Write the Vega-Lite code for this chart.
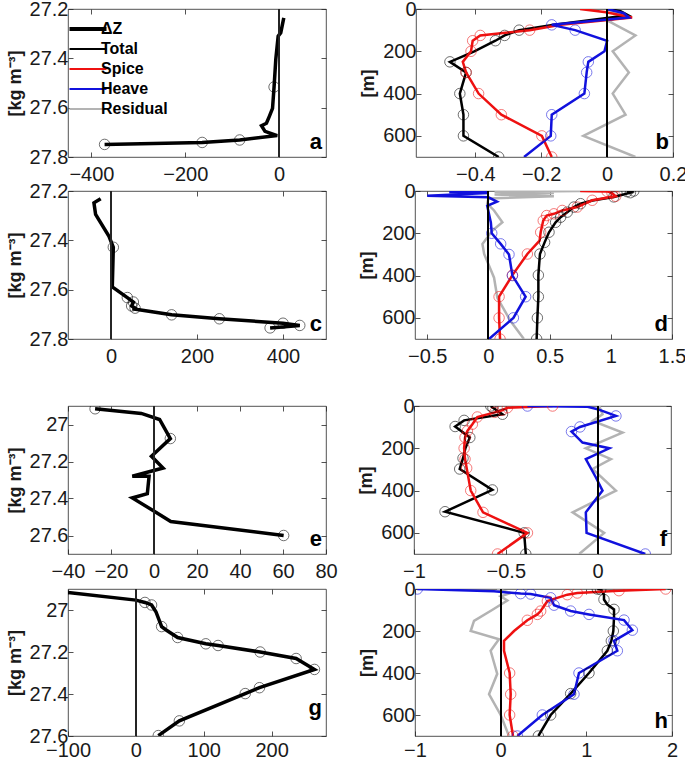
{
  "$schema": "https://vega.github.io/schema/vega-lite/v6.json",
  "padding": {"left": 5, "top": -2, "right": 5, "bottom": 0},
  "config": {
    "font": "Liberation Sans",
    "view": {"stroke": "#262626", "strokeWidth": 0.8},
    "axis": {"grid": false, "domain": false, "labelFontSize": 20, "labelColor": "#1a1a1a", "labelFont": "Liberation Sans", "tickColor": "#262626", "tickSize": -5, "tickWidth": 0.8, "titleFontSize": 18, "titleFontWeight": "bold", "titleColor": "#1a1a1a", "titleFont": "Liberation Sans", "labelFlush": false},
    "axisX": {"labelPadding": 12, "labelFlush": false},
    "axisY": {"labelPadding": 5, "titlePadding": 5},
    "point": {"filled": false}
  },
  "datasets": {
    "a": [
      {"s": "ΔZ", "z": 10, "r": 27.236, "m": 0},
      {"s": "ΔZ", "z": 3.6, "r": 27.296, "m": 0},
      {"s": "ΔZ", "z": -2, "r": 27.31, "m": 0},
      {"s": "ΔZ", "z": -7, "r": 27.403, "m": 0},
      {"s": "ΔZ", "z": -10.7, "r": 27.516, "m": 1},
      {"s": "ΔZ", "z": -14, "r": 27.603, "m": 0},
      {"s": "ΔZ", "z": -21, "r": 27.636, "m": 0},
      {"s": "ΔZ", "z": -27, "r": 27.663, "m": 0},
      {"s": "ΔZ", "z": -37.5, "r": 27.673, "m": 0},
      {"s": "ΔZ", "z": -30, "r": 27.696, "m": 0},
      {"s": "ΔZ", "z": -4, "r": 27.713, "m": 0},
      {"s": "ΔZ", "z": -84, "r": 27.731, "m": 1},
      {"s": "ΔZ", "z": -164, "r": 27.741, "m": 1},
      {"s": "ΔZ", "z": -372, "r": 27.749, "m": 1}
    ],
    "c": [
      {"z": -24, "r": 27.231, "m": 0},
      {"z": -39.7, "r": 27.248, "m": 0},
      {"z": -35.8, "r": 27.295, "m": 0},
      {"z": -4.7, "r": 27.384, "m": 0},
      {"z": 5.4, "r": 27.428, "m": 1},
      {"z": 3, "r": 27.589, "m": 0},
      {"z": 38, "r": 27.632, "m": 1},
      {"z": 52, "r": 27.65, "m": 1},
      {"z": 48, "r": 27.666, "m": 1},
      {"z": 56, "r": 27.675, "m": 1},
      {"z": 50, "r": 27.677, "m": 0},
      {"z": 141, "r": 27.702, "m": 1},
      {"z": 252, "r": 27.718, "m": 1},
      {"z": 400, "r": 27.736, "m": 1},
      {"z": 439, "r": 27.745, "m": 1},
      {"z": 370, "r": 27.755, "m": 1}
    ],
    "e": [
      {"z": -27.4, "r": 26.915, "m": 1},
      {"z": -5.9, "r": 26.94, "m": 0},
      {"z": 2.6, "r": 26.973, "m": 0},
      {"z": 7.6, "r": 27.076, "m": 1},
      {"z": -1.2, "r": 27.172, "m": 0},
      {"z": 4.2, "r": 27.235, "m": 0},
      {"z": -10.1, "r": 27.28, "m": 0},
      {"z": -2.3, "r": 27.28, "m": 0},
      {"z": -3.1, "r": 27.374, "m": 0},
      {"z": -10.1, "r": 27.397, "m": 0},
      {"z": 0.3, "r": 27.47, "m": 0},
      {"z": 7.8, "r": 27.524, "m": 0},
      {"z": 60.3, "r": 27.6, "m": 1}
    ],
    "g": [
      {"z": -100, "r": 26.917, "m": 0},
      {"z": 0, "r": 26.953, "m": 0},
      {"z": 13.3, "r": 26.964, "m": 1},
      {"z": 23.1, "r": 26.976, "m": 1},
      {"z": 29.5, "r": 27.008, "m": 0},
      {"z": 37.9, "r": 27.079, "m": 1},
      {"z": 44, "r": 27.094, "m": 0},
      {"z": 61.5, "r": 27.131, "m": 1},
      {"z": 103, "r": 27.161, "m": 1},
      {"z": 121, "r": 27.169, "m": 1},
      {"z": 183, "r": 27.2, "m": 1},
      {"z": 236, "r": 27.231, "m": 1},
      {"z": 263, "r": 27.283, "m": 1},
      {"z": 182, "r": 27.37, "m": 1},
      {"z": 161, "r": 27.398, "m": 1},
      {"z": 64, "r": 27.528, "m": 1},
      {"z": 33, "r": 27.598, "m": 1}
    ],
    "b": [
      {"s": "Residual", "d": 0, "x": 0, "m": 0},
      {"s": "Residual", "d": 25, "x": 0.04, "m": 0},
      {"s": "Residual", "d": 60, "x": 0.007, "m": 0},
      {"s": "Residual", "d": 125, "x": 0.086, "m": 0},
      {"s": "Residual", "d": 200, "x": 0.017, "m": 0},
      {"s": "Residual", "d": 300, "x": 0.066, "m": 0},
      {"s": "Residual", "d": 400, "x": 0.017, "m": 0},
      {"s": "Residual", "d": 500, "x": 0.056, "m": 0},
      {"s": "Residual", "d": 600, "x": -0.072, "m": 0},
      {"s": "Residual", "d": 700, "x": 0.086, "m": 0},
      {"s": "Total", "d": 0, "x": 0, "m": 0},
      {"s": "Total", "d": 10, "x": 0.041, "m": 0},
      {"s": "Total", "d": 30, "x": 0.064, "m": 0},
      {"s": "Total", "d": 75, "x": -0.161, "m": 0},
      {"s": "Total", "d": 100, "x": -0.267, "m": 1},
      {"s": "Total", "d": 125, "x": -0.311, "m": 1},
      {"s": "Total", "d": 150, "x": -0.339, "m": 1},
      {"s": "Total", "d": 200, "x": -0.403, "m": 0},
      {"s": "Total", "d": 250, "x": -0.477, "m": 1},
      {"s": "Total", "d": 300, "x": -0.428, "m": 1},
      {"s": "Total", "d": 400, "x": -0.447, "m": 1},
      {"s": "Total", "d": 500, "x": -0.436, "m": 1},
      {"s": "Total", "d": 600, "x": -0.436, "m": 1},
      {"s": "Total", "d": 700, "x": -0.329, "m": 1},
      {"s": "Spice", "d": 0, "x": -0.082, "m": 0},
      {"s": "Spice", "d": 15, "x": -0.003, "m": 0},
      {"s": "Spice", "d": 40, "x": 0.076, "m": 0},
      {"s": "Spice", "d": 75, "x": -0.141, "m": 0},
      {"s": "Spice", "d": 100, "x": -0.235, "m": 1},
      {"s": "Spice", "d": 125, "x": -0.385, "m": 1},
      {"s": "Spice", "d": 150, "x": -0.408, "m": 1},
      {"s": "Spice", "d": 200, "x": -0.413, "m": 1},
      {"s": "Spice", "d": 250, "x": -0.438, "m": 0},
      {"s": "Spice", "d": 300, "x": -0.428, "m": 1},
      {"s": "Spice", "d": 400, "x": -0.39, "m": 1},
      {"s": "Spice", "d": 500, "x": -0.321, "m": 1},
      {"s": "Spice", "d": 600, "x": -0.198, "m": 1},
      {"s": "Spice", "d": 700, "x": -0.168, "m": 1},
      {"s": "Heave", "d": 0, "x": 0, "m": 0},
      {"s": "Heave", "d": 20, "x": 0.051, "m": 0},
      {"s": "Heave", "d": 40, "x": 0.066, "m": 0},
      {"s": "Heave", "d": 75, "x": -0.168, "m": 1},
      {"s": "Heave", "d": 100, "x": -0.097, "m": 1},
      {"s": "Heave", "d": 150, "x": 0.0, "m": 0},
      {"s": "Heave", "d": 200, "x": -0.008, "m": 0},
      {"s": "Heave", "d": 250, "x": -0.057, "m": 1},
      {"s": "Heave", "d": 300, "x": -0.062, "m": 1},
      {"s": "Heave", "d": 400, "x": -0.069, "m": 1},
      {"s": "Heave", "d": 500, "x": -0.168, "m": 1},
      {"s": "Heave", "d": 600, "x": -0.171, "m": 1},
      {"s": "Heave", "d": 700, "x": -0.252, "m": 0}
    ],
    "d": [
      {"s": "Residual", "d": 0, "x": 0.75, "m": 0},
      {"s": "Residual", "d": 4, "x": 0.05, "m": 0},
      {"s": "Residual", "d": 10, "x": 0.535, "m": 0},
      {"s": "Residual", "d": 17, "x": 0.05, "m": 0},
      {"s": "Residual", "d": 25, "x": 0.535, "m": 0},
      {"s": "Residual", "d": 35, "x": 0.0, "m": 0},
      {"s": "Residual", "d": 60, "x": -0.01, "m": 0},
      {"s": "Residual", "d": 92, "x": 0.046, "m": 0},
      {"s": "Residual", "d": 148, "x": 0.114, "m": 0},
      {"s": "Residual", "d": 187, "x": 0.033, "m": 0},
      {"s": "Residual", "d": 251, "x": -0.049, "m": 0},
      {"s": "Residual", "d": 298, "x": -0.035, "m": 0},
      {"s": "Residual", "d": 410, "x": 0.046, "m": 0},
      {"s": "Residual", "d": 505, "x": 0.073, "m": 0},
      {"s": "Residual", "d": 616, "x": 0.182, "m": 0},
      {"s": "Residual", "d": 700, "x": 0.29, "m": 0},
      {"s": "Total", "d": 0, "x": 1.188, "m": 1},
      {"s": "Total", "d": 3, "x": 1.133, "m": 1},
      {"s": "Total", "d": 8, "x": 1.16, "m": 1},
      {"s": "Total", "d": 28, "x": 1.024, "m": 1},
      {"s": "Total", "d": 45, "x": 0.85, "m": 0},
      {"s": "Total", "d": 60, "x": 0.753, "m": 1},
      {"s": "Total", "d": 76, "x": 0.698, "m": 1},
      {"s": "Total", "d": 100, "x": 0.644, "m": 1},
      {"s": "Total", "d": 124, "x": 0.59, "m": 1},
      {"s": "Total", "d": 148, "x": 0.549, "m": 1},
      {"s": "Total", "d": 195, "x": 0.495, "m": 1},
      {"s": "Total", "d": 243, "x": 0.459, "m": 1},
      {"s": "Total", "d": 298, "x": 0.421, "m": 1},
      {"s": "Total", "d": 398, "x": 0.408, "m": 1},
      {"s": "Total", "d": 500, "x": 0.408, "m": 1},
      {"s": "Total", "d": 600, "x": 0.4, "m": 1},
      {"s": "Total", "d": 700, "x": 0.394, "m": 1},
      {"s": "Spice", "d": 0, "x": 0.75, "m": 0},
      {"s": "Spice", "d": 2, "x": 0.97, "m": 1},
      {"s": "Spice", "d": 10, "x": 1.01, "m": 1},
      {"s": "Spice", "d": 25, "x": 1.04, "m": 1},
      {"s": "Spice", "d": 44, "x": 0.848, "m": 1},
      {"s": "Spice", "d": 76, "x": 0.726, "m": 1},
      {"s": "Spice", "d": 92, "x": 0.603, "m": 1},
      {"s": "Spice", "d": 108, "x": 0.535, "m": 1},
      {"s": "Spice", "d": 116, "x": 0.476, "m": 1},
      {"s": "Spice", "d": 140, "x": 0.448, "m": 1},
      {"s": "Spice", "d": 195, "x": 0.427, "m": 1},
      {"s": "Spice", "d": 235, "x": 0.418, "m": 0},
      {"s": "Spice", "d": 298, "x": 0.318, "m": 1},
      {"s": "Spice", "d": 398, "x": 0.196, "m": 1},
      {"s": "Spice", "d": 500, "x": 0.087, "m": 1},
      {"s": "Spice", "d": 600, "x": 0.087, "m": 1},
      {"s": "Spice", "d": 700, "x": 0.095, "m": 1},
      {"s": "Heave", "d": 0, "x": 0.0, "m": 0},
      {"s": "Heave", "d": 5, "x": -0.32, "m": 0},
      {"s": "Heave", "d": 10, "x": 0.0, "m": 0},
      {"s": "Heave", "d": 22, "x": -0.5, "m": 0},
      {"s": "Heave", "d": 30, "x": 0.0, "m": 0},
      {"s": "Heave", "d": 50, "x": 0.07, "m": 0},
      {"s": "Heave", "d": 70, "x": -0.01, "m": 0},
      {"s": "Heave", "d": 150, "x": 0.02, "m": 0},
      {"s": "Heave", "d": 200, "x": 0.027, "m": 1},
      {"s": "Heave", "d": 250, "x": 0.1, "m": 1},
      {"s": "Heave", "d": 300, "x": 0.168, "m": 1},
      {"s": "Heave", "d": 400, "x": 0.196, "m": 1},
      {"s": "Heave", "d": 500, "x": 0.304, "m": 1},
      {"s": "Heave", "d": 600, "x": 0.204, "m": 1},
      {"s": "Heave", "d": 700, "x": 0.005, "m": 0}
    ],
    "f": [
      {"s": "Residual", "d": 0, "x": 0.009, "m": 0},
      {"s": "Residual", "d": 39, "x": 0.027, "m": 0},
      {"s": "Residual", "d": 71, "x": -0.027, "m": 0},
      {"s": "Residual", "d": 126, "x": 0.136, "m": 0},
      {"s": "Residual", "d": 200, "x": -0.064, "m": 0},
      {"s": "Residual", "d": 251, "x": 0.073, "m": 0},
      {"s": "Residual", "d": 298, "x": -0.027, "m": 0},
      {"s": "Residual", "d": 400, "x": 0.1, "m": 0},
      {"s": "Residual", "d": 503, "x": -0.136, "m": 0},
      {"s": "Residual", "d": 600, "x": 0.036, "m": 0},
      {"s": "Residual", "d": 700, "x": -0.1, "m": 0},
      {"s": "Total", "d": 0, "x": -0.582, "m": 1},
      {"s": "Total", "d": 8, "x": -0.57, "m": 1},
      {"s": "Total", "d": 39, "x": -0.518, "m": 1},
      {"s": "Total", "d": 68, "x": -0.727, "m": 1},
      {"s": "Total", "d": 97, "x": -0.776, "m": 1},
      {"s": "Total", "d": 149, "x": -0.696, "m": 1},
      {"s": "Total", "d": 200, "x": -0.72, "m": 0},
      {"s": "Total", "d": 247, "x": -0.733, "m": 1},
      {"s": "Total", "d": 298, "x": -0.751, "m": 1},
      {"s": "Total", "d": 397, "x": -0.573, "m": 1},
      {"s": "Total", "d": 500, "x": -0.831, "m": 1},
      {"s": "Total", "d": 600, "x": -0.4, "m": 1},
      {"s": "Total", "d": 700, "x": -0.391, "m": 1},
      {"s": "Spice", "d": 0, "x": -0.245, "m": 1},
      {"s": "Spice", "d": 8, "x": -0.491, "m": 1},
      {"s": "Spice", "d": 20, "x": -0.52, "m": 1},
      {"s": "Spice", "d": 30, "x": -0.56, "m": 1},
      {"s": "Spice", "d": 52, "x": -0.655, "m": 1},
      {"s": "Spice", "d": 86, "x": -0.682, "m": 1},
      {"s": "Spice", "d": 118, "x": -0.709, "m": 1},
      {"s": "Spice", "d": 149, "x": -0.722, "m": 1},
      {"s": "Spice", "d": 200, "x": -0.727, "m": 1},
      {"s": "Spice", "d": 251, "x": -0.722, "m": 1},
      {"s": "Spice", "d": 294, "x": -0.713, "m": 1},
      {"s": "Spice", "d": 400, "x": -0.691, "m": 1},
      {"s": "Spice", "d": 503, "x": -0.624, "m": 1},
      {"s": "Spice", "d": 600, "x": -0.382, "m": 1},
      {"s": "Spice", "d": 700, "x": -0.545, "m": 1},
      {"s": "Heave", "d": 0, "x": -0.382, "m": 1},
      {"s": "Heave", "d": 3, "x": -0.06, "m": 0},
      {"s": "Heave", "d": 15, "x": 0.0, "m": 0},
      {"s": "Heave", "d": 47, "x": 0.1, "m": 1},
      {"s": "Heave", "d": 99, "x": -0.096, "m": 1},
      {"s": "Heave", "d": 121, "x": -0.142, "m": 1},
      {"s": "Heave", "d": 173, "x": -0.082, "m": 0},
      {"s": "Heave", "d": 200, "x": 0.064, "m": 0},
      {"s": "Heave", "d": 251, "x": -0.064, "m": 0},
      {"s": "Heave", "d": 338, "x": -0.009, "m": 0},
      {"s": "Heave", "d": 400, "x": 0.027, "m": 0},
      {"s": "Heave", "d": 503, "x": -0.064, "m": 0},
      {"s": "Heave", "d": 600, "x": -0.06, "m": 0},
      {"s": "Heave", "d": 700, "x": 0.26, "m": 1}
    ],
    "h": [
      {"s": "Residual", "d": 0, "x": -0.04, "m": 0},
      {"s": "Residual", "d": 19, "x": 0.117, "m": 0},
      {"s": "Residual", "d": 35, "x": 0.0, "m": 0},
      {"s": "Residual", "d": 55, "x": 0.078, "m": 0},
      {"s": "Residual", "d": 100, "x": -0.1, "m": 0},
      {"s": "Residual", "d": 152, "x": -0.311, "m": 0},
      {"s": "Residual", "d": 200, "x": -0.35, "m": 0},
      {"s": "Residual", "d": 239, "x": -0.02, "m": 0},
      {"s": "Residual", "d": 294, "x": -0.117, "m": 0},
      {"s": "Residual", "d": 404, "x": -0.04, "m": 0},
      {"s": "Residual", "d": 501, "x": -0.136, "m": 0},
      {"s": "Residual", "d": 600, "x": 0.0, "m": 0},
      {"s": "Residual", "d": 700, "x": 0.097, "m": 0},
      {"s": "Total", "d": 0, "x": 1.128, "m": 1},
      {"s": "Total", "d": 3, "x": 1.167, "m": 1},
      {"s": "Total", "d": 27, "x": 1.206, "m": 0},
      {"s": "Total", "d": 50, "x": 1.206, "m": 1},
      {"s": "Total", "d": 74, "x": 1.245, "m": 0},
      {"s": "Total", "d": 97, "x": 1.323, "m": 1},
      {"s": "Total", "d": 137, "x": 1.323, "m": 0},
      {"s": "Total", "d": 200, "x": 1.315, "m": 1},
      {"s": "Total", "d": 247, "x": 1.292, "m": 1},
      {"s": "Total", "d": 294, "x": 1.245, "m": 1},
      {"s": "Total", "d": 400, "x": 1.031, "m": 1},
      {"s": "Total", "d": 498, "x": 0.817, "m": 1},
      {"s": "Total", "d": 600, "x": 0.584, "m": 1},
      {"s": "Total", "d": 700, "x": 0.44, "m": 1},
      {"s": "Spice", "d": 0, "x": 1.926, "m": 1},
      {"s": "Spice", "d": 8, "x": 1.381, "m": 1},
      {"s": "Spice", "d": 19, "x": 0.895, "m": 1},
      {"s": "Spice", "d": 27, "x": 0.778, "m": 1},
      {"s": "Spice", "d": 58, "x": 0.545, "m": 1},
      {"s": "Spice", "d": 105, "x": 0.467, "m": 1},
      {"s": "Spice", "d": 121, "x": 0.428, "m": 1},
      {"s": "Spice", "d": 149, "x": 0.311, "m": 1},
      {"s": "Spice", "d": 200, "x": 0.156, "m": 0},
      {"s": "Spice", "d": 247, "x": 0.039, "m": 0},
      {"s": "Spice", "d": 294, "x": 0.039, "m": 0},
      {"s": "Spice", "d": 400, "x": 0.105, "m": 1},
      {"s": "Spice", "d": 501, "x": 0.117, "m": 1},
      {"s": "Spice", "d": 600, "x": 0.105, "m": 1},
      {"s": "Spice", "d": 700, "x": 0.144, "m": 1},
      {"s": "Heave", "d": 0, "x": -0.973, "m": 1},
      {"s": "Heave", "d": 11, "x": -0.078, "m": 0},
      {"s": "Heave", "d": 22, "x": 0.233, "m": 1},
      {"s": "Heave", "d": 24, "x": 0.35, "m": 1},
      {"s": "Heave", "d": 42, "x": 0.584, "m": 1},
      {"s": "Heave", "d": 77, "x": 0.623, "m": 1},
      {"s": "Heave", "d": 105, "x": 0.817, "m": 1},
      {"s": "Heave", "d": 121, "x": 1.031, "m": 1},
      {"s": "Heave", "d": 148, "x": 1.44, "m": 1},
      {"s": "Heave", "d": 196, "x": 1.537, "m": 1},
      {"s": "Heave", "d": 247, "x": 1.323, "m": 1},
      {"s": "Heave", "d": 294, "x": 1.362, "m": 1},
      {"s": "Heave", "d": 400, "x": 0.914, "m": 1},
      {"s": "Heave", "d": 501, "x": 0.856, "m": 1},
      {"s": "Heave", "d": 600, "x": 0.486, "m": 1},
      {"s": "Heave", "d": 700, "x": 0.195, "m": 1}
    ]
  },
  "spacing": 28,
  "resolve": {"scale": {"color": "independent"}, "legend": {"color": "independent"}},
  "vconcat": [
    {
      "spacing": -5,
      "resolve": {"scale": {"color": "independent"}, "legend": {"color": "independent"}},
      "vconcat": [
        {
          "spacing": 32,
          "resolve": {"scale": {"color": "independent"}, "legend": {"color": "independent"}},
          "hconcat": [
            {
              "width": 258, "height": 148,
              "data": {"name": "a"},
              "resolve": {"axis": {"x": "independent", "y": "independent"}},
              "layer": [
                {
                  "mark": {"type": "line", "strokeWidth": 3.5, "clip": true},
                  "encoding": {
                    "x": {"field": "z", "type": "quantitative", "scale": {"domain": [-450, 100], "nice": false, "zero": false}, "axis": {"values": [-400, -200, 0], "format": ".2~f", "title": null}},
                    "y": {"field": "r", "type": "quantitative", "scale": {"domain": [27.2, 27.8], "reverse": true, "nice": false, "zero": false}, "axis": {"values": [27.2, 27.4, 27.6, 27.8], "format": ".1~f", "title": "[kg m⁻³]"}},
                    "color": {"field": "s", "type": "nominal",
                      "scale": {"domain": ["ΔZ", "Total", "Spice", "Heave", "Residual"], "range": ["#000000", "#000000", "#ee1111", "#1111dd", "#b3b3b3"]},
                      "legend": {"orient": "top-left", "offset": 12, "title": null, "symbolType": "stroke", "symbolSize": 1369, "symbolStrokeWidth": 2, "labelFontSize": 16, "labelFontWeight": "bold", "labelColor": "#000000", "labelFont": "Liberation Sans", "rowPadding": 4, "padding": 0, "labelOffset": 5,
                        "encode": {"symbols": {"update": {"strokeWidth": {"signal": "datum.value === 'ΔZ' ? 4 : 2"}}}}}},
                    "order": {"value": null}
                  }
                },
                {
                  "transform": [{"filter": "datum.m == 1"}],
                  "mark": {"type": "point", "shape": "circle", "size": 110, "strokeWidth": 0.8, "color": "#000000", "clip": true},
                  "encoding": {"x": {"field": "z", "type": "quantitative", "axis": null}, "y": {"field": "r", "type": "quantitative", "axis": null}}
                },
                {
                  "mark": {"type": "rule", "color": "#262626", "strokeWidth": 0.9},
                  "encoding": {"x": {"datum": 0, "type": "quantitative", "axis": null}}
                },
                {
                  "data": {"values": [{"lab": "a", "x": 100, "y": 27.8}]},
                  "mark": {"type": "text", "align": "right", "baseline": "bottom", "dx": -4, "dy": -3, "fontSize": 22, "fontWeight": "bold", "font": "Liberation Sans"},
                  "encoding": {
                    "x": {"field": "x", "type": "quantitative", "axis": {"orient": "top", "labels": false, "values": [-400, -200, 0], "title": null}},
                    "y": {"field": "y", "type": "quantitative", "axis": {"orient": "right", "labels": false, "values": [27.2, 27.4, 27.6, 27.8], "title": null}},
                    "text": {"field": "lab"}}
                }
              ]
            },
            {
              "width": 257, "height": 148,
              "data": {"name": "b"},
              "resolve": {"axis": {"x": "independent", "y": "independent"}},
              "layer": [
                {
                  "mark": {"type": "line", "strokeWidth": 2.5, "clip": true},
                  "encoding": {
                    "x": {"field": "x", "type": "quantitative", "scale": {"domain": [-0.58, 0.2], "nice": false, "zero": false}, "axis": {"values": [-0.4, -0.2, 0, 0.2], "format": ".2~f", "title": null}},
                    "y": {"field": "d", "type": "quantitative", "scale": {"domain": [0, 700], "reverse": true, "nice": false}, "axis": {"values": [0, 200, 400, 600], "title": "[m]"}},
                    "color": {"field": "s", "type": "nominal", "scale": {"domain": ["Total", "Spice", "Heave", "Residual"], "range": ["#000000", "#ee1111", "#1111dd", "#b3b3b3"]}, "legend": null},
                    "order": {"value": null}
                  }
                },
                {
                  "transform": [{"filter": "datum.m == 1"}],
                  "mark": {"type": "point", "shape": "circle", "size": 110, "strokeWidth": 0.8, "clip": true},
                  "encoding": {"x": {"field": "x", "type": "quantitative", "axis": null}, "y": {"field": "d", "type": "quantitative", "axis": null}, "color": {"field": "s", "type": "nominal", "legend": null}}
                },
                {
                  "mark": {"type": "rule", "color": "#000000", "strokeWidth": 0.9},
                  "encoding": {"x": {"datum": 0, "type": "quantitative", "axis": null}}
                },
                {
                  "data": {"values": [{"lab": "b", "x": 0.2, "y": 700}]},
                  "mark": {"type": "text", "align": "right", "baseline": "bottom", "dx": -4, "dy": -3, "fontSize": 22, "fontWeight": "bold", "font": "Liberation Sans"},
                  "encoding": {
                    "x": {"field": "x", "type": "quantitative", "axis": {"orient": "top", "labels": false, "values": [-0.4, -0.2, 0, 0.2], "title": null}},
                    "y": {"field": "y", "type": "quantitative", "axis": {"orient": "right", "labels": false, "values": [0, 200, 400, 600], "title": null}},
                    "text": {"field": "lab"}}
                }
              ]
            }
          ]
        },
        {
          "spacing": 31,
          "resolve": {"scale": {"color": "independent"}, "legend": {"color": "independent"}},
          "hconcat": [
            {
              "width": 258, "height": 148,
              "data": {"name": "c"},
              "resolve": {"axis": {"x": "independent", "y": "independent"}},
              "layer": [
                {
                  "mark": {"type": "line", "strokeWidth": 3.5, "clip": true, "color": "#000000"},
                  "encoding": {
                    "x": {"field": "z", "type": "quantitative", "scale": {"domain": [-100, 500], "nice": false, "zero": false}, "axis": {"values": [0, 200, 400], "format": ".2~f", "title": null}},
                    "y": {"field": "r", "type": "quantitative", "scale": {"domain": [27.2, 27.8], "reverse": true, "nice": false, "zero": false}, "axis": {"values": [27.2, 27.4, 27.6, 27.8], "format": ".1~f", "title": "[kg m⁻³]"}},
                    "order": {"value": null}
                  }
                },
                {
                  "transform": [{"filter": "datum.m == 1"}],
                  "mark": {"type": "point", "shape": "circle", "size": 110, "strokeWidth": 0.8, "color": "#000000", "clip": true},
                  "encoding": {"x": {"field": "z", "type": "quantitative", "axis": null}, "y": {"field": "r", "type": "quantitative", "axis": null}}
                },
                {
                  "mark": {"type": "rule", "color": "#262626", "strokeWidth": 0.9},
                  "encoding": {"x": {"datum": 0, "type": "quantitative", "axis": null}}
                },
                {
                  "data": {"values": [{"lab": "c", "x": 500, "y": 27.8}]},
                  "mark": {"type": "text", "align": "right", "baseline": "bottom", "dx": -4, "dy": -3, "fontSize": 22, "fontWeight": "bold", "font": "Liberation Sans"},
                  "encoding": {
                    "x": {"field": "x", "type": "quantitative", "axis": {"orient": "top", "labels": false, "values": [0, 200, 400], "title": null}},
                    "y": {"field": "y", "type": "quantitative", "axis": {"orient": "right", "labels": false, "values": [27.2, 27.4, 27.6, 27.8], "title": null}},
                    "text": {"field": "lab"}}
                }
              ]
            },
            {
              "width": 257, "height": 148,
              "data": {"name": "d"},
              "resolve": {"axis": {"x": "independent", "y": "independent"}},
              "layer": [
                {
                  "mark": {"type": "line", "strokeWidth": 2.5, "clip": true},
                  "encoding": {
                    "x": {"field": "x", "type": "quantitative", "scale": {"domain": [-0.6, 1.5], "nice": false, "zero": false}, "axis": {"values": [-0.5, 0, 0.5, 1, 1.5], "format": ".2~f", "title": null}},
                    "y": {"field": "d", "type": "quantitative", "scale": {"domain": [0, 700], "reverse": true, "nice": false}, "axis": {"values": [0, 200, 400, 600], "title": "[m]"}},
                    "color": {"field": "s", "type": "nominal", "scale": {"domain": ["Total", "Spice", "Heave", "Residual"], "range": ["#000000", "#ee1111", "#1111dd", "#b3b3b3"]}, "legend": null},
                    "order": {"value": null}
                  }
                },
                {
                  "transform": [{"filter": "datum.m == 1"}],
                  "mark": {"type": "point", "shape": "circle", "size": 110, "strokeWidth": 0.8, "clip": true},
                  "encoding": {"x": {"field": "x", "type": "quantitative", "axis": null}, "y": {"field": "d", "type": "quantitative", "axis": null}, "color": {"field": "s", "type": "nominal", "legend": null}}
                },
                {
                  "mark": {"type": "rule", "color": "#000000", "strokeWidth": 0.9},
                  "encoding": {"x": {"datum": 0, "type": "quantitative", "axis": null}}
                },
                {
                  "data": {"values": [{"lab": "d", "x": 1.5, "y": 700}]},
                  "mark": {"type": "text", "align": "right", "baseline": "bottom", "dx": -4, "dy": -3, "fontSize": 22, "fontWeight": "bold", "font": "Liberation Sans"},
                  "encoding": {
                    "x": {"field": "x", "type": "quantitative", "axis": {"orient": "top", "labels": false, "values": [-0.5, 0, 0.5, 1, 1.5], "title": null}},
                    "y": {"field": "y", "type": "quantitative", "axis": {"orient": "right", "labels": false, "values": [0, 200, 400, 600], "title": null}},
                    "text": {"field": "lab"}}
                }
              ]
            }
          ]
        }
      ]
    },
    {
      "spacing": -4,
      "resolve": {"scale": {"color": "independent"}, "legend": {"color": "independent"}},
      "vconcat": [
        {
          "spacing": 19,
          "resolve": {"scale": {"color": "independent"}, "legend": {"color": "independent"}},
          "hconcat": [
            {
              "width": 258, "height": 148,
              "data": {"name": "e"},
              "resolve": {"axis": {"x": "independent", "y": "independent"}},
              "layer": [
                {
                  "mark": {"type": "line", "strokeWidth": 3.5, "clip": true, "color": "#000000"},
                  "encoding": {
                    "x": {"field": "z", "type": "quantitative", "scale": {"domain": [-40, 80], "nice": false, "zero": false}, "axis": {"values": [-40, -20, 0, 20, 40, 60, 80], "format": ".2~f", "title": null}},
                    "y": {"field": "r", "type": "quantitative", "scale": {"domain": [26.9, 27.7], "reverse": true, "nice": false, "zero": false}, "axis": {"values": [27, 27.2, 27.4, 27.6], "format": ".1~f", "title": "[kg m⁻³]"}},
                    "order": {"value": null}
                  }
                },
                {
                  "transform": [{"filter": "datum.m == 1"}],
                  "mark": {"type": "point", "shape": "circle", "size": 110, "strokeWidth": 0.8, "color": "#000000", "clip": true},
                  "encoding": {"x": {"field": "z", "type": "quantitative", "axis": null}, "y": {"field": "r", "type": "quantitative", "axis": null}}
                },
                {
                  "mark": {"type": "rule", "color": "#262626", "strokeWidth": 0.9},
                  "encoding": {"x": {"datum": 0, "type": "quantitative", "axis": null}}
                },
                {
                  "data": {"values": [{"lab": "e", "x": 80, "y": 27.7}]},
                  "mark": {"type": "text", "align": "right", "baseline": "bottom", "dx": -4, "dy": -3, "fontSize": 22, "fontWeight": "bold", "font": "Liberation Sans"},
                  "encoding": {
                    "x": {"field": "x", "type": "quantitative", "axis": {"orient": "top", "labels": false, "values": [-40, -20, 0, 20, 40, 60, 80], "title": null}},
                    "y": {"field": "y", "type": "quantitative", "axis": {"orient": "right", "labels": false, "values": [27, 27.2, 27.4, 27.6], "title": null}},
                    "text": {"field": "lab"}}
                }
              ]
            },
            {
              "width": 257, "height": 148,
              "data": {"name": "f"},
              "resolve": {"axis": {"x": "independent", "y": "independent"}},
              "layer": [
                {
                  "mark": {"type": "line", "strokeWidth": 2.5, "clip": true},
                  "encoding": {
                    "x": {"field": "x", "type": "quantitative", "scale": {"domain": [-1, 0.4], "nice": false, "zero": false}, "axis": {"values": [-1, -0.5, 0], "format": ".2~f", "title": null}},
                    "y": {"field": "d", "type": "quantitative", "scale": {"domain": [0, 700], "reverse": true, "nice": false}, "axis": {"values": [0, 200, 400, 600], "title": "[m]"}},
                    "color": {"field": "s", "type": "nominal", "scale": {"domain": ["Total", "Spice", "Heave", "Residual"], "range": ["#000000", "#ee1111", "#1111dd", "#b3b3b3"]}, "legend": null},
                    "order": {"value": null}
                  }
                },
                {
                  "transform": [{"filter": "datum.m == 1"}],
                  "mark": {"type": "point", "shape": "circle", "size": 110, "strokeWidth": 0.8, "clip": true},
                  "encoding": {"x": {"field": "x", "type": "quantitative", "axis": null}, "y": {"field": "d", "type": "quantitative", "axis": null}, "color": {"field": "s", "type": "nominal", "legend": null}}
                },
                {
                  "mark": {"type": "rule", "color": "#000000", "strokeWidth": 0.9},
                  "encoding": {"x": {"datum": 0, "type": "quantitative", "axis": null}}
                },
                {
                  "data": {"values": [{"lab": "f", "x": 0.4, "y": 700}]},
                  "mark": {"type": "text", "align": "right", "baseline": "bottom", "dx": -4, "dy": -3, "fontSize": 22, "fontWeight": "bold", "font": "Liberation Sans"},
                  "encoding": {
                    "x": {"field": "x", "type": "quantitative", "axis": {"orient": "top", "labels": false, "values": [-1, -0.5, 0], "title": null}},
                    "y": {"field": "y", "type": "quantitative", "axis": {"orient": "right", "labels": false, "values": [0, 200, 400, 600], "title": null}},
                    "text": {"field": "lab"}}
                }
              ]
            }
          ]
        },
        {
          "spacing": 31,
          "resolve": {"scale": {"color": "independent"}, "legend": {"color": "independent"}},
          "hconcat": [
            {
              "width": 258, "height": 147,
              "data": {"name": "g"},
              "resolve": {"axis": {"x": "independent", "y": "independent"}},
              "layer": [
                {
                  "mark": {"type": "line", "strokeWidth": 3.5, "clip": true, "color": "#000000"},
                  "encoding": {
                    "x": {"field": "z", "type": "quantitative", "scale": {"domain": [-100, 280], "nice": false, "zero": false}, "axis": {"values": [-100, 0, 100, 200], "format": ".2~f", "title": null, "labelPadding": 9}},
                    "y": {"field": "r", "type": "quantitative", "scale": {"domain": [26.9, 27.6], "reverse": true, "nice": false, "zero": false}, "axis": {"values": [27, 27.2, 27.4, 27.6], "format": ".1~f", "title": "[kg m⁻³]"}},
                    "order": {"value": null}
                  }
                },
                {
                  "transform": [{"filter": "datum.m == 1"}],
                  "mark": {"type": "point", "shape": "circle", "size": 110, "strokeWidth": 0.8, "color": "#000000", "clip": true},
                  "encoding": {"x": {"field": "z", "type": "quantitative", "axis": null}, "y": {"field": "r", "type": "quantitative", "axis": null}}
                },
                {
                  "mark": {"type": "rule", "color": "#262626", "strokeWidth": 0.9},
                  "encoding": {"x": {"datum": 0, "type": "quantitative", "axis": null}}
                },
                {
                  "data": {"values": [{"lab": "g", "x": 280, "y": 27.6}]},
                  "mark": {"type": "text", "align": "right", "baseline": "bottom", "dx": -4, "dy": -16, "fontSize": 22, "fontWeight": "bold", "font": "Liberation Sans"},
                  "encoding": {
                    "x": {"field": "x", "type": "quantitative", "axis": {"orient": "top", "labels": false, "values": [-100, 0, 100, 200], "title": null}},
                    "y": {"field": "y", "type": "quantitative", "axis": {"orient": "right", "labels": false, "values": [27, 27.2, 27.4, 27.6], "title": null}},
                    "text": {"field": "lab"}}
                }
              ]
            },
            {
              "width": 257, "height": 147,
              "data": {"name": "h"},
              "resolve": {"axis": {"x": "independent", "y": "independent"}},
              "layer": [
                {
                  "mark": {"type": "line", "strokeWidth": 2.5, "clip": true},
                  "encoding": {
                    "x": {"field": "x", "type": "quantitative", "scale": {"domain": [-1, 2], "nice": false, "zero": false}, "axis": {"values": [-1, 0, 1, 2], "format": ".2~f", "title": null, "labelPadding": 9}},
                    "y": {"field": "d", "type": "quantitative", "scale": {"domain": [0, 700], "reverse": true, "nice": false}, "axis": {"values": [0, 200, 400, 600], "title": "[m]"}},
                    "color": {"field": "s", "type": "nominal", "scale": {"domain": ["Total", "Spice", "Heave", "Residual"], "range": ["#000000", "#ee1111", "#1111dd", "#b3b3b3"]}, "legend": null},
                    "order": {"value": null}
                  }
                },
                {
                  "transform": [{"filter": "datum.m == 1"}],
                  "mark": {"type": "point", "shape": "circle", "size": 110, "strokeWidth": 0.8, "clip": true},
                  "encoding": {"x": {"field": "x", "type": "quantitative", "axis": null}, "y": {"field": "d", "type": "quantitative", "axis": null}, "color": {"field": "s", "type": "nominal", "legend": null}}
                },
                {
                  "mark": {"type": "rule", "color": "#000000", "strokeWidth": 0.9},
                  "encoding": {"x": {"datum": 0, "type": "quantitative", "axis": null}}
                },
                {
                  "data": {"values": [{"lab": "h", "x": 2, "y": 700}]},
                  "mark": {"type": "text", "align": "right", "baseline": "bottom", "dx": -4, "dy": -3, "fontSize": 22, "fontWeight": "bold", "font": "Liberation Sans"},
                  "encoding": {
                    "x": {"field": "x", "type": "quantitative", "axis": {"orient": "top", "labels": false, "values": [-1, 0, 1, 2], "title": null}},
                    "y": {"field": "y", "type": "quantitative", "axis": {"orient": "right", "labels": false, "values": [0, 200, 400, 600], "title": null}},
                    "text": {"field": "lab"}}
                }
              ]
            }
          ]
        }
      ]
    }
  ]
}
